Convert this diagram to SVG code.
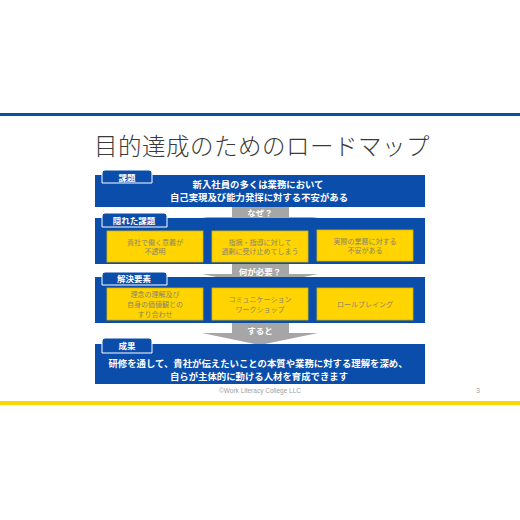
<svg xmlns="http://www.w3.org/2000/svg" width="520" height="520" viewBox="0 0 520 520">
<style>
text{font-family:"Noto Sans CJK JP","Noto Sans",sans-serif;text-anchor:middle}
.band{fill:#0A4DAB}
.tab{fill:#0A4DAB;stroke:#fff;stroke-width:1}
.tabt{fill:#fff;font-size:8.5px;font-weight:bold}
.bt{fill:#fff;font-size:9.4px;font-weight:bold}
.yb{fill:#FFD400;stroke:#D9B300;stroke-width:0.8}
.yt{fill:#8A866C;font-size:7px}
.arr{fill:#A6A6A6}
.at{fill:#fff;font-size:8.5px;font-weight:bold}
</style>
<rect width="520" height="520" fill="#fff"/>
<rect x="0" y="113" width="520" height="3" fill="#0A4DAB"/>
<rect x="0" y="401" width="520" height="4" fill="#FFD700"/>
<text x="262" y="155" font-size="23.5" font-weight="300" fill="#3A3A3A" letter-spacing="0.5">目的達成のためのロードマップ</text>

<g id="connectors">
<g id="arrow1"><polygon class="arr" points="232,207 289,207 289,217 318,217 260,228 202,217 232,217"/><text class="at" x="260" y="216">なぜ？</text></g>
<g id="arrow2"><polygon class="arr" points="232,264 289,264 289,274 318,274 260,286 202,274 232,274"/><text class="at" x="260" y="275">何が必要？</text></g>
<g id="arrow3"><polygon class="arr" points="232,323 289,323 289,333 318,333 260,345 202,333 232,333"/><text class="at" x="260" y="334">すると</text></g>
</g>

<g id="kadai">
<rect class="band" x="95" y="175" width="330" height="32"/>
<path class="tab" d="M102,183 V173 Q102,170 105,170 H149 Q152,170 152,173 V183 Z"/>
<text class="tabt" x="127" y="180.5">課題</text>
<text class="bt" x="258" y="187.5">新入社員の多くは業務において</text>
<text class="bt" x="259" y="200.5">自己実現及び能力発揮に対する不安がある</text>
</g>

<g id="kakureta">
<rect class="band" x="95" y="218" width="330" height="46"/>
<path class="tab" d="M102,227 V216 Q102,213 105,213 H164 Q167,213 167,216 V227 Z"/>
<text class="tabt" x="134" y="224">隠れた課題</text>
<g id="k1"><rect class="yb" x="107" y="231" width="96" height="31"/><text class="yt" x="155" y="244.5">貴社で働く意義が</text><text class="yt" x="155" y="254">不透明</text></g>
<g id="k2"><rect class="yb" x="212" y="231" width="96" height="31"/><text class="yt" x="260" y="244.5">指摘・指導に対して</text><text class="yt" x="260" y="254">過剰に受け止めてしまう</text></g>
<g id="k3"><rect class="yb" x="317" y="230" width="96" height="31"/><text class="yt" x="365" y="243.5">実際の業務に対する</text><text class="yt" x="365" y="253">不安がある</text></g>
</g>

<g id="kaiketsu">
<rect class="band" x="95" y="277" width="330" height="46"/>
<path class="tab" d="M102,285 V275 Q102,272 105,272 H164 Q167,272 167,275 V285 Z"/>
<text class="tabt" x="134" y="282">解決要素</text>
<g id="s1"><rect class="yb" x="107" y="288" width="96" height="32"/><text class="yt" x="155" y="296.5">理念の理解及び</text><text class="yt" x="155" y="306.5">自身の価値観との</text><text class="yt" x="155" y="316.5">すり合わせ</text></g>
<g id="s2"><rect class="yb" x="212" y="288" width="96" height="32"/><text class="yt" x="260" y="301.5">コミュニケーション</text><text class="yt" x="260" y="311.5">ワークショップ</text></g>
<g id="s3"><rect class="yb" x="317" y="288" width="96" height="32"/><text class="yt" x="365" y="306.5">ロールプレイング</text></g>
</g>

<g id="seika">
<rect class="band" x="95" y="344" width="330" height="40"/>
<path class="tab" d="M102,353 V341 Q102,338 105,338 H149 Q152,338 152,341 V353 Z"/>
<text class="tabt" x="127" y="349">成果</text>
<text class="bt" x="258" y="367">研修を通して、貴社が伝えたいことの本質や業務に対する理解を深め、</text>
<text class="bt" x="259" y="379.5">自らが主体的に動ける人材を育成できます</text>
</g>

<text x="260" y="393" font-size="6.5" fill="#A0A0A0" style="font-family:'Liberation Sans',sans-serif">©Work Literacy College LLC</text>
<text x="478" y="393" font-size="6.5" fill="#A0A0A0" style="font-family:'Liberation Sans',sans-serif">3</text>
</svg>
